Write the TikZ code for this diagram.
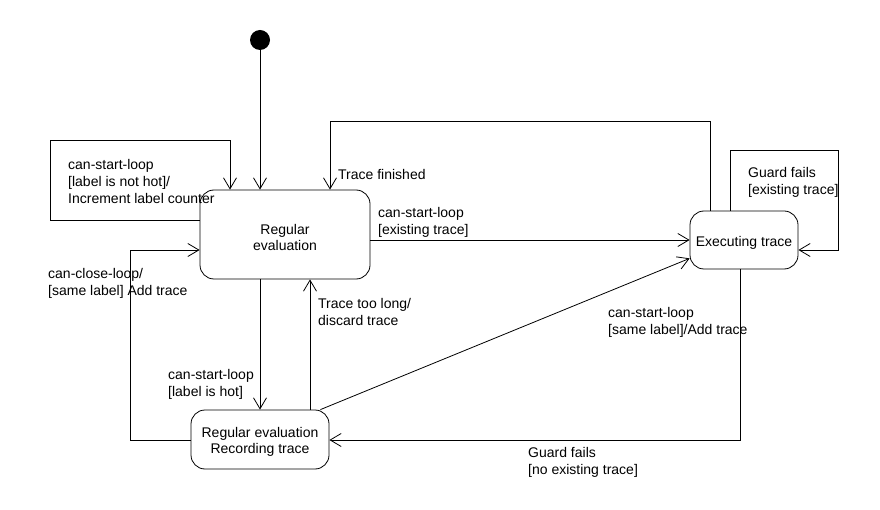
\documentclass[tikz,border=0pt]{standalone}
\usepackage{fontspec}
\setmainfont{Liberation Sans}
\usetikzlibrary{arrows.meta,calc}

\begin{document}
\begin{tikzpicture}[x=1pt, y=-1pt,
  font=\fontsize{14}{17}\selectfont,
  state/.style={draw, line width=0.8pt, rounded corners=14pt, align=center, inner sep=0pt},
  trans/.style={draw, line width=0.8pt, -{Straight Barb[length=11pt,width=13pt,line width=0.8pt]}},
  lbl/.style={align=left, anchor=west, inner sep=0pt}]
  \useasboundingbox (0,0) rectangle (880,510);
  % states
  \node[circle, fill=black, minimum size=20pt, inner sep=0pt] (init) at (260,40) {};
  \node[state, minimum width=170pt, minimum height=89pt] (reg) at (285,234.5) {\raisebox{-3pt}[\height][\depth]{\shortstack{Regular\\evaluation}}};
  \node[state, minimum width=108pt, minimum height=58pt] (exec) at (744,240) {\raisebox{-3pt}[\height][\depth]{Executing trace}};
  \node[state, minimum width=138pt, minimum height=59pt] (rec) at (260,439.5) {\raisebox{-2pt}[\height][\depth]{\shortstack{Regular evaluation\\Recording trace}}};
  % bend points
  \coordinate (rl1) at (50,220);
  \coordinate (rl2) at (230,140);
  \coordinate (tf1) at (710,121);
  \coordinate (tf2) at (330,121);
  \coordinate (el1) at (730,150);
  \coordinate (el2) at (838,250);
  \coordinate (tl) at (310,345);
  \coordinate (cl1) at (130,440);
  \coordinate (cl2) at (130,250);
  \coordinate (gf) at (740,440);
  % transitions
  \draw[trans] (init) -- (init |- reg.north);
  \draw[trans] (reg.west |- rl1) -- (rl1) |- (rl2) -- (rl2 |- reg.north);
  \draw[trans] (tf1 |- exec.north) -- (tf1) -- (tf2) -- (tf2 |- reg.north);
  \draw[trans] (reg.east |- exec.west) -- (exec.west);
  \draw[trans] (el1 |- exec.north) -- (el1) -| (el2) -- (el2 -| exec.east);
  \draw[trans] (reg.south -| rec.north) -- (rec.north);
  \draw[trans] (rec.north -| tl) -- (reg.south -| tl);
  \draw[trans] (rec.west |- cl1) -- (cl1) -- (cl2) -- (reg.west |- cl2);
  \draw[trans] (gf |- exec.south) -- (gf) -- (rec.east |- gf);
  \draw[trans] ($(rec.north east)+(-9,0)$) -- ($(exec.south west)+(0,-11)$);
  % labels
  \node[lbl] (l1) at (68,181) {can-start-loop\\{[}label is not hot]/\\Increment label counter};
  \node[lbl] (l2) at (338,174) {Trace finished};
  \node[lbl] (l3) at (378,222.5) {can-start-loop\\{[}existing trace]};
  \node[lbl] (l4) at (748,182.5) {Guard fails\\{[}existing trace]};
  \node[lbl] (l5) at (48,283) {can-close-loop/\\{[}same label] Add trace};
  \node[lbl] (l6) at (318,312) {Trace too long/\\discard trace};
  \node[lbl] (l7) at (168,384) {can-start-loop\\{[}label is hot]};
  \node[lbl] (l8) at (608,322.5) {can-start-loop\\{[}same label]/Add trace};
  \node[lbl] (l9) at (528,462) {Guard fails\\{[}no existing trace]};
\end{tikzpicture}
\end{document}
